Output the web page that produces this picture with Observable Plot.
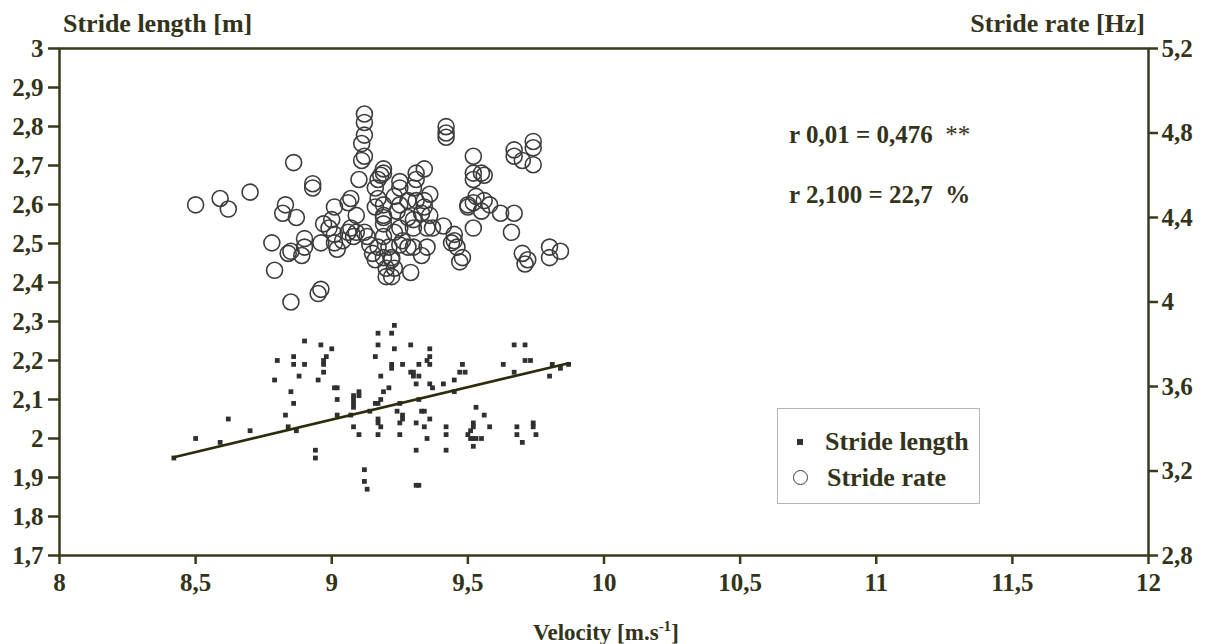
<!DOCTYPE html>
<html>
<head>
<meta charset="utf-8">
<script src="https://cdn.jsdelivr.net/npm/d3@7"></script>
<script src="https://cdn.jsdelivr.net/npm/@observablehq/plot@0.6"></script>
<style>
  html, body { margin: 0; padding: 0; background: #fff; }
  #wrap { position: relative; width: 1215px; height: 644px; overflow: hidden; font-family: "Liberation Serif", "Times New Roman", serif; font-weight: bold; color: #33331a; }
  .ov { position: absolute; white-space: nowrap; line-height: 1; }
  #legend { position: absolute; left: 777px; top: 408px; width: 203px; height: 96px; border: 1.5px solid #b5b5b5; box-sizing: border-box; background: #fff; }
  #wrap svg, #wrap svg text, #wrap svg g { font-family: "Liberation Serif", "Times New Roman", serif !important; font-weight: bold !important; }
</style>
</head>
<body>
<div id="wrap"></div>
<script>
// ---- data ----
// Stride length [m] versus velocity [m/s]
const lengthVelocity = [8.90,8.96,9.00,8.98,8.97,8.97,8.80,8.86,8.86,8.90,8.88,8.97,8.95,8.79,8.85,9.01,9.02,9.02,8.86,8.83,9.02,8.62,8.84,8.87,8.70,8.50,8.59,8.42,8.94,8.94,
  9.23,9.17,9.22,9.17,9.29,9.23,9.36,9.16,9.36,9.35,9.36,9.22,9.22,9.26,9.32,9.29,9.30,9.30,9.32,9.18,9.31,9.36,9.37,9.41,9.45,9.48,9.47,9.49,9.45,9.21,
  9.19,9.18,9.10,9.08,9.10,9.08,9.08,9.08,9.16,9.17,9.14,9.07,9.25,9.24,9.26,9.26,9.32,9.33,9.34,9.36,9.17,9.17,9.18,9.25,9.31,9.34,9.08,9.10,9.17,9.25,
  9.35,9.42,9.42,9.31,9.42,9.53,9.56,9.58,9.52,9.52,9.50,9.51,9.51,9.52,9.53,9.52,9.68,9.68,9.70,9.74,9.74,9.75,9.67,9.71,9.71,9.73,9.63,9.67,9.12,9.12,
  9.13,9.31,9.32,9.81,9.84,9.87,9.80,9.55];
const strideLength = [2.25,2.24,2.23,2.21,2.20,2.19,2.20,2.21,2.19,2.19,2.16,2.17,2.15,2.15,2.12,2.13,2.13,2.10,2.09,2.06,2.06,2.05,2.03,2.02,2.02,2.00,1.99,1.95,1.97,1.95,
  2.29,2.27,2.27,2.24,2.24,2.23,2.23,2.21,2.21,2.20,2.19,2.19,2.18,2.19,2.19,2.17,2.17,2.16,2.16,2.16,2.14,2.14,2.13,2.14,2.15,2.19,2.17,2.17,2.12,2.13,
  2.12,2.10,2.12,2.11,2.11,2.10,2.09,2.08,2.09,2.09,2.07,2.06,2.09,2.07,2.06,2.05,2.10,2.07,2.07,2.05,2.05,2.04,2.03,2.04,2.04,2.03,2.03,2.01,2.01,2.01,
  2.00,2.03,2.01,1.97,1.97,2.08,2.06,2.03,2.04,2.03,2.01,2.02,2.00,2.00,2.00,1.98,2.03,2.01,1.99,2.04,2.03,2.01,2.24,2.24,2.20,2.20,2.19,2.17,1.92,1.89,
  1.87,1.88,1.88,2.19,2.18,2.19,2.16,2.00];

// Stride rate [Hz] versus velocity [m/s]
const rateVelocity = [8.50,8.59,8.62,8.70,8.86,8.93,8.93,8.83,8.82,8.87,9.01,8.78,8.85,8.84,8.90,8.89,8.90,8.79,8.85,8.96,8.95,8.97,9.00,8.96,9.01,9.01,9.02,9.04,9.06,8.99,
  9.07,9.06,9.09,9.07,9.09,9.08,9.12,9.12,9.12,9.11,9.12,9.11,9.10,9.19,9.18,9.17,9.16,9.19,9.25,9.25,9.31,9.34,9.31,9.30,9.17,9.16,9.19,9.19,9.23,9.24,
  9.25,9.34,9.36,9.31,9.34,9.41,9.45,9.45,9.44,9.46,9.48,9.47,9.12,9.13,9.14,9.15,9.16,9.17,9.19,9.19,9.20,9.20,9.21,9.22,9.23,9.22,9.29,9.28,9.30,9.26,
  9.35,9.33,9.19,9.25,9.30,9.35,9.37,9.19,9.28,9.33,9.42,9.42,9.42,9.52,9.52,9.55,9.52,9.67,9.70,9.74,9.74,9.67,9.74,9.50,9.50,9.52,9.53,9.56,9.58,9.52,
  9.62,9.67,9.66,9.70,9.72,9.71,9.80,9.84,9.80,9.56,9.55,9.36,9.30,9.28,9.23,9.25,9.22];
const strideRate = [4.46,4.49,4.44,4.52,4.66,4.56,4.54,4.46,4.42,4.40,4.45,4.28,4.24,4.23,4.26,4.22,4.30,4.15,4.00,4.06,4.04,4.37,4.39,4.28,4.32,4.28,4.25,4.29,4.33,4.35,
  4.49,4.47,4.41,4.35,4.33,4.31,4.89,4.85,4.79,4.75,4.69,4.67,4.58,4.63,4.60,4.58,4.54,4.61,4.57,4.54,4.61,4.63,4.58,4.54,4.49,4.45,4.46,4.41,4.50,4.43,
  4.46,4.45,4.41,4.48,4.48,4.36,4.32,4.29,4.28,4.26,4.21,4.19,4.33,4.31,4.27,4.23,4.20,4.26,4.21,4.31,4.16,4.12,4.26,4.21,4.16,4.12,4.14,4.26,4.26,4.29,
  4.26,4.22,4.37,4.35,4.35,4.35,4.35,4.40,4.40,4.42,4.83,4.80,4.78,4.69,4.61,4.61,4.58,4.72,4.67,4.76,4.65,4.69,4.73,4.46,4.45,4.47,4.50,4.48,4.46,4.35,
  4.42,4.42,4.33,4.23,4.20,4.18,4.26,4.24,4.21,4.60,4.43,4.51,4.39,4.48,4.33,4.27,4.20];

// trend line of stride length on velocity, as drawn in the reference
const trendIntercept = 0.5526;
const trendSlope = 0.1662;

// axes
const xTicks = [8, 8.5, 9, 9.5, 10, 10.5, 11, 11.5, 12];
const xTickLabels = ["8", "8,5", "9", "9,5", "10", "10,5", "11", "11,5", "12"];
const lengthTicks = [1.7, 1.8, 1.9, 2.0, 2.1, 2.2, 2.3, 2.4, 2.5, 2.6, 2.7, 2.8, 2.9, 3.0];
const lengthTickLabels = ["1,7", "1,8", "1,9", "2", "2,1", "2,2", "2,3", "2,4", "2,5", "2,6", "2,7", "2,8", "2,9", "3"];
const rateTicks = [2.8, 3.2, 3.6, 4.0, 4.4, 4.8, 5.2];
const rateTickLabels = ["2,8", "3,2", "3,6", "4", "4,4", "4,8", "5,2"];
const lengthDomain = [1.7, 3.0];
const rateDomain = [2.8, 5.2];

// texts
const leftTitle = "Stride length [m]";
const rightTitle = "Stride rate [Hz]";
const xTitle = "Velocity [m.s";
const xTitleSup = "-1";
const stat1 = "r 0,01 = 0,476";
const stat1b = "**";
const stat2 = "r 2,100 = 22,7";
const stat2b = "%";
const legendLabels = ["Stride length", "Stride rate"];

// ---- build ----
const rateToLength = h => lengthDomain[0] + (h - rateDomain[0]) * (lengthDomain[1] - lengthDomain[0]) / (rateDomain[1] - rateDomain[0]);
const lengthData = lengthVelocity.map((v, i) => ({v, s: strideLength[i]}));
const rateData = rateVelocity.map((v, i) => ({v, r: strideRate[i]}));
const ratePos = rateTicks.map(rateToLength);
const trendData = d3.extent(lengthVelocity).map(v => ({v, s: trendIntercept + trendSlope * v}));

const lineCol = "#3a3a1c";
const textCol = "#33331a";
const axisFont = {fontWeight: "bold", fontSize: 25, fill: textCol, stroke: lineCol, strokeWidth: 2.5, label: null};

const chart = Plot.plot({
  width: 1215,
  height: 644,
  marginLeft: 59,
  marginRight: 67,
  marginTop: 48,
  marginBottom: 89,
  x: {domain: [8, 12]},
  y: {domain: lengthDomain},
  style: {fontFamily: "Liberation Serif, Times New Roman, serif", fontWeight: "bold", fontSize: "25px", color: textCol, background: "transparent"},
  marks: [
    Plot.axisX(xTicks, {...axisFont, tickSize: 9, tickPadding: 9,
      tickFormat: d => xTickLabels[xTicks.indexOf(d)]}),
    Plot.axisY(lengthTicks, {...axisFont, anchor: "left", tickSize: 11, tickPadding: 5,
      tickFormat: d => lengthTickLabels[lengthTicks.indexOf(d)]}),
    Plot.axisY(ratePos, {...axisFont, anchor: "right", tickSize: 9, tickPadding: 4,
      tickFormat: d => rateTickLabels[ratePos.indexOf(d)]}),
    Plot.frame({stroke: lineCol, strokeWidth: 2.5}),
    Plot.dot(rateData, {x: "v", y: d => rateToLength(d.r), r: 8, stroke: "#3c3c3c", strokeWidth: 1.6, fill: "none"}),
    Plot.dot(lengthData, {x: "v", y: "s", symbol: "square", r: 2.7, fill: "#303030", stroke: "none"}),
    Plot.line(trendData, {x: "v", y: "s", stroke: "#2c2c0c", strokeWidth: 2.6})
  ]
});

const wrap = document.getElementById("wrap");
wrap.appendChild(chart);
chart.style.position = "absolute";
chart.style.left = "0px";
chart.style.top = "0px";

function addText(html, css) {
  const d = document.createElement("div");
  d.className = "ov";
  d.innerHTML = html;
  Object.assign(d.style, css);
  wrap.appendChild(d);
  return d;
}
addText(leftTitle, {left: "63px", top: "11px", fontSize: "26px"});
addText(rightTitle, {right: "70px", top: "11px", fontSize: "26px"});
addText(xTitle + "<sup style='font-size:15px;vertical-align:9px'>" + xTitleSup + "</sup>]", {left: "533px", top: "619px", fontSize: "23px"});
addText(stat1 + "&nbsp;&nbsp;<span style='font-weight:normal'>" + stat1b + "</span>", {left: "789px", top: "122px", fontSize: "25px"});
addText(stat2 + "&nbsp;&nbsp;" + stat2b, {left: "789px", top: "182px", fontSize: "25px"});

const legend = document.createElement("div");
legend.id = "legend";
wrap.appendChild(legend);
addText("", {left: "797px", top: "439px", width: "6px", height: "6px", background: "#303030"});
addText("", {left: "793px", top: "470px", width: "15px", height: "15px", border: "1.5px solid #3c3c3c", borderRadius: "50%", boxSizing: "border-box"});
addText(legendLabels[0], {left: "825px", top: "429px", fontSize: "26px"});
addText(legendLabels[1], {left: "827px", top: "465px", fontSize: "26px"});
</script>
</body>
</html>
